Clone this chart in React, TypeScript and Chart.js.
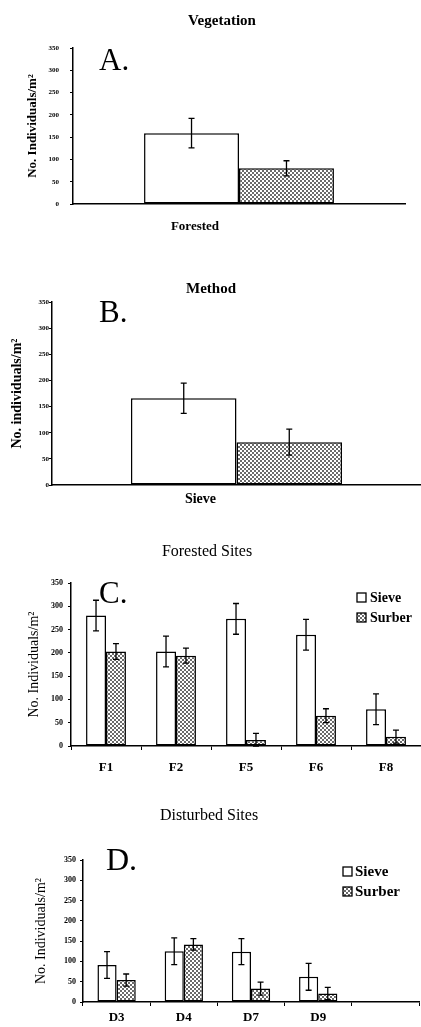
import React, { useEffect, useRef } from "react";
import { Chart, registerables } from "chart.js";

Chart.register(...registerables);
Chart.defaults.font.family = "'Liberation Serif', 'Times New Roman', serif";
Chart.defaults.color = "#000";

// ---------- data ----------
const SERIES = ["Sieve", "Surber"];
const Y_TICKS = [0, 50, 100, 150, 200, 250, 300, 350];

const vegCategories = ["Forested"];
const vegSieve = [159];
const vegSieveErr = [33];
const vegSurber = [80];
const vegSurberErr = [17];

const methodCategories = ["Sieve"];
const methodSieve = [166];
const methodSieveErr = [29];
const methodSurber = [82];
const methodSurberErr = [25];

const forestCategories = ["F1", "F2", "F5", "F6", "F8"];
const forestSieve = [280, 203, 273, 239, 79];
const forestSieveErr = [33, 33, 33, 33, 33];
const forestSurber = [203, 194, 13, 65, 20];
const forestSurberErr = [17, 16, 14, 15, 14];

const disturbedCategories = ["D3", "D4", "D7", "D9", ""];
const disturbedSieve = [91, 125, 124, 62, null];
const disturbedSieveErr = [33, 33, 32, 33, null];
const disturbedSurber = [54, 142, 33, 21, null];
const disturbedSurberErr = [15, 14, 16, 15, null];

const W = 421;

// ---------- panel layouts ----------
const PANELS: any[] = [
  {
    top: 0, height: 240, area: { left: 73, right: 405, top: 48, bottom: 204 },
    title: "Vegetation", titleX: 222, titleY: 25, titleFont: "bold 15px 'Liberation Serif'",
    letter: "A.", letterX: 99, letterY: 70, letterFont: "31px 'Liberation Serif'",
    categories: vegCategories, sieve: vegSieve, sieveErr: vegSieveErr, surber: vegSurber, surberErr: vegSurberErr,
    catPct: 0.572,
    yTitle: "No. Individuals/m²", yTitleFont: { size: 13, weight: "bold" }, yTitlePad: 25,
    yTickFont: { size: 7, weight: "bold" }, yTickLen: 3, yTickPad: 11,
    xTickFont: { size: 13, weight: "bold" }, xTickPad: 15, xLabelOffset: -44, xMarks: false,
    legend: null,
  },
  {
    top: 240, height: 280, area: { left: 52, right: 421, top: 62, bottom: 245 },
    title: "Method", titleX: 211, titleY: 53, titleFont: "bold 15px 'Liberation Serif'",
    letter: "B.", letterX: 99, letterY: 82, letterFont: "31px 'Liberation Serif'",
    categories: methodCategories, sieve: methodSieve, sieveErr: methodSieveErr, surber: methodSurber, surberErr: methodSurberErr,
    catPct: 0.572,
    yTitle: "No. individuals/m²", yTitleFont: { size: 14, weight: "bold" }, yTitlePad: 9,
    yTickFont: { size: 7, weight: "bold" }, yTickLen: 3, yTickPad: 0,
    xTickFont: { size: 14, weight: "bold" }, xTickPad: 6, xLabelOffset: -36, xMarks: false,
    legend: null,
  },
  {
    top: 525, height: 265, area: { left: 71, right: 421, top: 58, bottom: 221 },
    title: "Forested Sites", titleX: 207, titleY: 31, titleFont: "16px 'Liberation Serif'",
    letter: "C.", letterX: 99, letterY: 78, letterFont: "31px 'Liberation Serif'",
    categories: forestCategories, sieve: forestSieve, sieveErr: forestSieveErr, surber: forestSurber, surberErr: forestSurberErr,
    catPct: 0.57,
    yTitle: "No. Individuals/m²", yTitleFont: { size: 14, weight: "normal" }, yTitlePad: 26,
    yTickFont: { size: 8, weight: "bold" }, yTickLen: 3, yTickPad: 5,
    xTickFont: { size: 13, weight: "bold" }, xTickPad: 10, xLabelOffset: 0, xMarks: true,
    legend: { x: 357, y: 77, gap: 20, box: 9, textX: 370, font: "bold 14px 'Liberation Serif'" },
  },
  {
    top: 790, height: 237, area: { left: 83, right: 419, top: 70, bottom: 212 },
    title: "Disturbed Sites", titleX: 209, titleY: 30, titleFont: "16px 'Liberation Serif'",
    letter: "D.", letterX: 106, letterY: 80, letterFont: "32px 'Liberation Serif'",
    categories: disturbedCategories, sieve: disturbedSieve, sieveErr: disturbedSieveErr, surber: disturbedSurber, surberErr: disturbedSurberErr,
    catPct: 0.57,
    yTitle: "No. Individuals/m²", yTitleFont: { size: 14, weight: "normal" }, yTitlePad: 33,
    yTickFont: { size: 8, weight: "bold" }, yTickLen: 3, yTickPad: 4,
    xTickFont: { size: 13, weight: "bold" }, xTickPad: 4, xLabelOffset: 0, xMarks: true,
    legend: { x: 343, y: 86, gap: 20, box: 9, textX: 355, font: "bold 15px 'Liberation Serif'" },
  },
];

// ---------- plugins ----------
const errorBarPlugin = {
  id: "errorBars",
  afterDatasetsDraw(chart: any) {
    const ctx = chart.ctx;
    const y = chart.scales.y;
    ctx.save();
    ctx.strokeStyle = "#000";
    ctx.lineWidth = 1.3;
    chart.data.datasets.forEach((ds: any, di: number) => {
      const meta = chart.getDatasetMeta(di);
      meta.data.forEach((bar: any, i: number) => {
        const v = ds.data[i];
        const e = ds.errors ? ds.errors[i] : null;
        if (v == null || e == null) return;
        const top = y.getPixelForValue(v + e);
        const bot = y.getPixelForValue(Math.max(0, v - e));
        const x = bar.x;
        const cap = 3;
        ctx.beginPath();
        ctx.moveTo(x, top);
        ctx.lineTo(x, bot);
        ctx.moveTo(x - cap, top);
        ctx.lineTo(x + cap, top);
        ctx.moveTo(x - cap, bot);
        ctx.lineTo(x + cap, bot);
        ctx.stroke();
      });
    });
    ctx.restore();
  },
};

const panelTextPlugin = {
  id: "panelText",
  afterDraw(chart: any, _args: any, o: any) {
    if (!o || !o.title) return;
    const ctx = chart.ctx;
    ctx.save();
    ctx.fillStyle = "#000";
    ctx.textBaseline = "alphabetic";
    ctx.font = o.titleFont;
    ctx.textAlign = "center";
    ctx.fillText(o.title, o.titleX, o.titleY);
    ctx.font = o.letterFont;
    ctx.textAlign = "left";
    ctx.fillText(o.letter, o.letterX, o.letterY);
    ctx.restore();
  },
};

const boxLegendPlugin = {
  id: "boxLegend",
  afterDraw(chart: any, _args: any, o: any) {
    if (!o || o.x == null) return;
    const ctx = chart.ctx;
    ctx.save();
    chart.data.datasets.forEach((ds: any, i: number) => {
      const base = o.y + i * o.gap;
      ctx.fillStyle = ds.backgroundColor;
      ctx.fillRect(o.x, base - o.box, o.box, o.box);
      ctx.strokeStyle = "#000";
      ctx.lineWidth = 1.3;
      ctx.strokeRect(o.x, base - o.box, o.box, o.box);
      ctx.fillStyle = "#000";
      ctx.font = o.font;
      ctx.textAlign = "left";
      ctx.textBaseline = "alphabetic";
      ctx.fillText(ds.label, o.textX, base);
    });
    ctx.restore();
  },
};

function makeStipple(): CanvasPattern | string {
  const c = document.createElement("canvas");
  c.width = 4;
  c.height = 4;
  const g = c.getContext("2d");
  if (!g) return "#aaa";
  g.fillStyle = "#fff";
  g.fillRect(0, 0, 4, 4);
  g.fillStyle = "#6a6a6a";
  g.fillRect(0, 0, 2, 2);
  g.fillRect(2, 2, 2, 2);
  return g.createPattern(c, "repeat") || "#aaa";
}

function makeChart(canvas: HTMLCanvasElement, p: any, stipple: any) {
  return new Chart(canvas, {
    type: "bar",
    data: {
      labels: p.categories,
      datasets: [
        {
          label: SERIES[0],
          data: p.sieve,
          errors: p.sieveErr,
          backgroundColor: "#ffffff",
          borderColor: "#000",
          borderWidth: 1.5,
          borderSkipped: false,
          barPercentage: 1,
          categoryPercentage: p.catPct,
        } as any,
        {
          label: SERIES[1],
          data: p.surber,
          errors: p.surberErr,
          backgroundColor: stipple,
          borderColor: "#000",
          borderWidth: 1.5,
          borderSkipped: false,
          barPercentage: 1,
          categoryPercentage: p.catPct,
        } as any,
      ],
    },
    options: {
      responsive: false,
      animation: false,
      layout: { padding: { top: p.area.top, right: W - p.area.right, bottom: 0, left: 0 } },
      plugins: {
        legend: { display: false },
        tooltip: { enabled: false },
        title: { display: false },
        panelText: {
          title: p.title, titleX: p.titleX, titleY: p.titleY, titleFont: p.titleFont,
          letter: p.letter, letterX: p.letterX, letterY: p.letterY, letterFont: p.letterFont,
        },
        boxLegend: p.legend ? p.legend : {},
      } as any,
      scales: {
        x: {
          type: "category",
          offset: true,
          grid: {
            display: p.xMarks,
            drawOnChartArea: false,
            drawTicks: p.xMarks,
            tickLength: 4,
            color: "#000",
            lineWidth: 1,
            offset: true,
          },
          border: { display: true, color: "#000", width: 1.5 },
          ticks: {
            color: "#000",
            font: p.xTickFont,
            padding: p.xTickPad,
            labelOffset: p.xLabelOffset,
            maxRotation: 0,
            autoSkip: false,
          },
          afterFit: (s: any) => {
            s.height = p.height - p.area.bottom;
          },
        },
        y: {
          min: 0,
          max: 350,
          afterBuildTicks: (s: any) => {
            s.ticks = Y_TICKS.map((v) => ({ value: v }));
          },
          grid: {
            display: true,
            drawOnChartArea: false,
            drawTicks: true,
            tickLength: p.yTickLen,
            color: "#000",
            lineWidth: 1,
          },
          border: { display: true, color: "#000", width: 1.5 },
          ticks: { color: "#000", font: p.yTickFont, padding: p.yTickPad },
          title: {
            display: true,
            text: p.yTitle,
            color: "#000",
            font: p.yTitleFont,
            padding: { top: p.yTitlePad, bottom: 0 },
          },
          afterFit: (s: any) => {
            s.width = p.area.left;
          },
        },
      },
    } as any,
    plugins: [errorBarPlugin, panelTextPlugin, boxLegendPlugin],
  });
}

function Panel({ p }: { p: any }) {
  const ref = useRef<HTMLCanvasElement | null>(null);
  useEffect(() => {
    if (!ref.current) return;
    const chart = makeChart(ref.current, p, makeStipple());
    return () => chart.destroy();
  }, [p]);
  return (
    <canvas
      ref={ref}
      width={W}
      height={p.height}
      style={{ position: "absolute", left: 0, top: p.top, width: W, height: p.height, display: "block" }}
    />
  );
}

export default function App() {
  return (
    <div style={{ position: "absolute", left: 0, top: 0, width: W, height: 1027, background: "#fff", overflow: "hidden" }}>
      {PANELS.map((p, i) => (
        <Panel key={i} p={p} />
      ))}
    </div>
  );
}
